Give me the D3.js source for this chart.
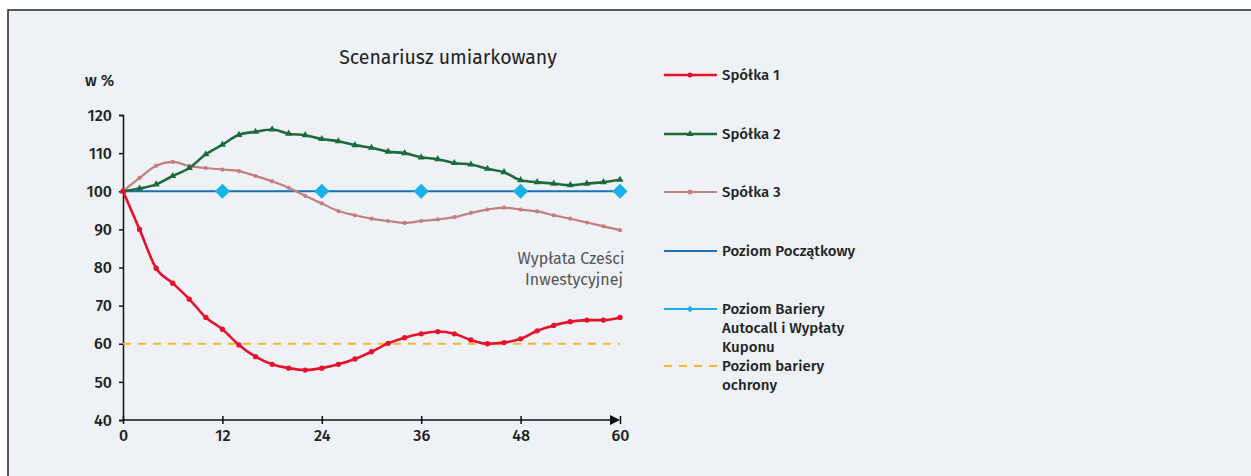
<!DOCTYPE html>
<html>
<head>
<meta charset="utf-8">
<script src="https://cdn.jsdelivr.net/npm/d3@7"></script>
<style>
  body { margin: 0; background: #fff; }
  svg text { font-family: "Fira Sans", "Open Sans", "Noto Sans", sans-serif; }
</style>
</head>
<body>
<svg id="chart" width="1251" height="476"></svg>
<script>
// months, every 2 months
var months = d3.range(0, 61, 2);
var spolka1 = [100, 90, 79.8, 75.9, 71.7, 66.9, 63.8, 59.7, 56.6, 54.6, 53.6, 53.1, 53.6, 54.6, 56,
  57.9, 60.1, 61.6, 62.6, 63.2, 62.6, 61, 60, 60.3, 61.3, 63.4, 64.8, 65.8, 66.2, 66.2, 66.9];
var spolka2 = [100, 100.7, 101.8, 104, 106.1, 109.7, 112.2, 114.8, 115.6, 116.2, 115.1, 114.7, 113.7, 113.1, 112.1,
  111.4, 110.4, 110, 108.9, 108.4, 107.4, 107, 105.9, 105, 102.9, 102.4, 102, 101.6, 102, 102.4, 103];
var spolka3 = [100, 103.5, 106.7, 107.7, 106.6, 106.1, 105.7, 105.3, 104, 102.6, 100.9, 98.8, 96.8, 94.8, 93.7,
  92.8, 92.2, 91.7, 92.2, 92.6, 93.2, 94.3, 95.2, 95.7, 95.2, 94.7, 93.7, 92.8, 91.8, 90.8, 89.8];
var poziomPoczatkowy = 100;
var barieraMonths = [12, 24, 36, 48, 60];
var barieraAutocall = 100;
var barieraOchrony = 60;
var yTicks = [40, 50, 60, 70, 80, 90, 100, 110, 120];
var xTicks = [0, 12, 24, 36, 48, 60];

var svg = d3.select("#chart");

// panel background with frame
svg.append("rect").attr("x", 8).attr("y", 10).attr("width", 1260).attr("height", 480)
  .attr("fill", "#eef2f6").attr("stroke", "#222").attr("stroke-width", 1.5);

var x = d3.scaleLinear().domain([0, 60]).range([123, 620]);
var y = d3.scaleLinear().domain([40, 120]).range([420, 115]);

svg.append("text").attr("x", 448).attr("y", 64).attr("text-anchor", "middle")
  .attr("font-size", 19.5).attr("fill", "#222").text("Scenariusz umiarkowany");
svg.append("text").attr("x", 85).attr("y", 86)
  .attr("font-size", 16).attr("font-weight", 500).attr("fill", "#222").text("w %");

// axes
var yAxis = svg.append("g").attr("transform", "translate(" + x(0) + ",0)")
  .call(d3.axisLeft(y).tickValues(yTicks).tickSize(4).tickPadding(7));
var xAxis = svg.append("g").attr("transform", "translate(0," + y(40) + ")")
  .call(d3.axisBottom(x).tickValues(xTicks).tickSize(4).tickPadding(6));
[yAxis, xAxis].forEach(function(g) {
  g.select(".domain").attr("stroke", "#111").attr("stroke-width", 1.5);
  g.selectAll(".tick line").attr("stroke", "#111").attr("stroke-width", 1.5);
  g.selectAll(".tick text").attr("font-size", 16).attr("font-weight", 500).attr("fill", "#222")
    .style("font-family", "'Fira Sans', 'Open Sans', sans-serif");
});
xAxis.selectAll(".tick line").attr("y1", -4);
xAxis.select(".domain").attr("d", "M" + x(0) + ",0H" + (x(60) - 2));
xAxis.append("path").attr("d", "M" + (x(60) - 10) + ",-5L" + x(60) + ",0L" + (x(60) - 10) + ",5Z").attr("fill", "#111");

var line = d3.line().x(function(d) { return x(d[0]); }).y(function(d) { return y(d[1]); }).curve(d3.curveMonotoneX);
function pairs(vals) { return months.map(function(m, i) { return [m, vals[i]]; }); }

// barrier ochrony
svg.append("line").attr("x1", x(0)).attr("x2", x(60)).attr("y1", y(barieraOchrony)).attr("y2", y(barieraOchrony))
  .attr("stroke", "#f5b730").attr("stroke-width", 2.2).attr("stroke-dasharray", "8,7");

// poziom poczatkowy
svg.append("line").attr("x1", x(0)).attr("x2", x(60)).attr("y1", y(poziomPoczatkowy)).attr("y2", y(poziomPoczatkowy))
  .attr("stroke", "#1b6fb5").attr("stroke-width", 2);

var series = [
  { vals: spolka3, color: "#c47f7c", width: 2.2, marker: "circle", size: 14 },
  { vals: spolka2, color: "#1d6b3c", width: 2.6, marker: "triangle", size: 22 },
  { vals: spolka1, color: "#e8112b", width: 2.6, marker: "circle", size: 22 }
];
series.forEach(function(s) {
  var p = pairs(s.vals);
  svg.append("path").datum(p).attr("d", line).attr("fill", "none")
    .attr("stroke", s.color).attr("stroke-width", s.width);
  var sym = d3.symbol().type(s.marker === "triangle" ? d3.symbolTriangle : d3.symbolCircle).size(s.size);
  svg.append("g").selectAll("path").data(p).enter().append("path")
    .attr("d", sym).attr("fill", s.color)
    .attr("transform", function(d) { return "translate(" + x(d[0]) + "," + y(d[1]) + ")"; });
});

// bariera autocall diamonds (square turned 45deg)
svg.append("g").selectAll("path").data(barieraMonths).enter().append("path")
  .attr("d", d3.symbol().type(d3.symbolSquare).size(115)).attr("fill", "#19b1e6")
  .attr("transform", function(d) { return "translate(" + x(d) + "," + y(barieraAutocall) + ") rotate(45)"; });

// annotation
var ann = svg.append("text").attr("text-anchor", "middle").attr("font-size", 16).attr("fill", "#555");
ann.append("tspan").attr("x", 571).attr("y", 264).text("Wypłata Cześci");
ann.append("tspan").attr("x", 574).attr("y", 285).text("Inwestycyjnej");

// legend
var legend = [
  { y: 75, color: "#e8112b", width: 2.6, marker: "circle", lines: ["Spółka 1"] },
  { y: 134, color: "#1d6b3c", width: 2.6, marker: "triangle", lines: ["Spółka 2"] },
  { y: 192, color: "#c47f7c", width: 2.2, marker: "circle", lines: ["Spółka 3"] },
  { y: 251, color: "#1b6fb5", width: 2, marker: null, lines: ["Poziom Początkowy"] },
  { y: 309, color: "#19b1e6", width: 2.2, marker: "diamond", lines: ["Poziom Bariery", "Autocall i Wypłaty", "Kuponu"] },
  { y: 366, color: "#f5b730", width: 2.2, marker: null, dash: "8,7", lines: ["Poziom bariery", "ochrony"] }
];
legend.forEach(function(l) {
  var g = svg.append("g");
  g.append("line").attr("x1", 664).attr("x2", 717).attr("y1", l.y).attr("y2", l.y)
    .attr("stroke", l.color).attr("stroke-width", l.width).attr("stroke-dasharray", l.dash || null);
  if (l.marker) {
    var t = l.marker === "triangle" ? d3.symbolTriangle : (l.marker === "diamond" ? d3.symbolSquare : d3.symbolCircle);
    g.append("path").attr("d", d3.symbol().type(t).size(l.marker === "diamond" ? 22 : 20)).attr("fill", l.color)
      .attr("transform", "translate(690," + l.y + ")" + (l.marker === "diamond" ? " rotate(45)" : ""));
  }
  var txt = g.append("text").attr("font-size", 15).attr("font-weight", 500).attr("fill", "#222");
  l.lines.forEach(function(s, i) {
    txt.append("tspan").attr("x", 722).attr("y", l.y + 5 + i * 19).text(s);
  });
});
</script>
</body>
</html>
